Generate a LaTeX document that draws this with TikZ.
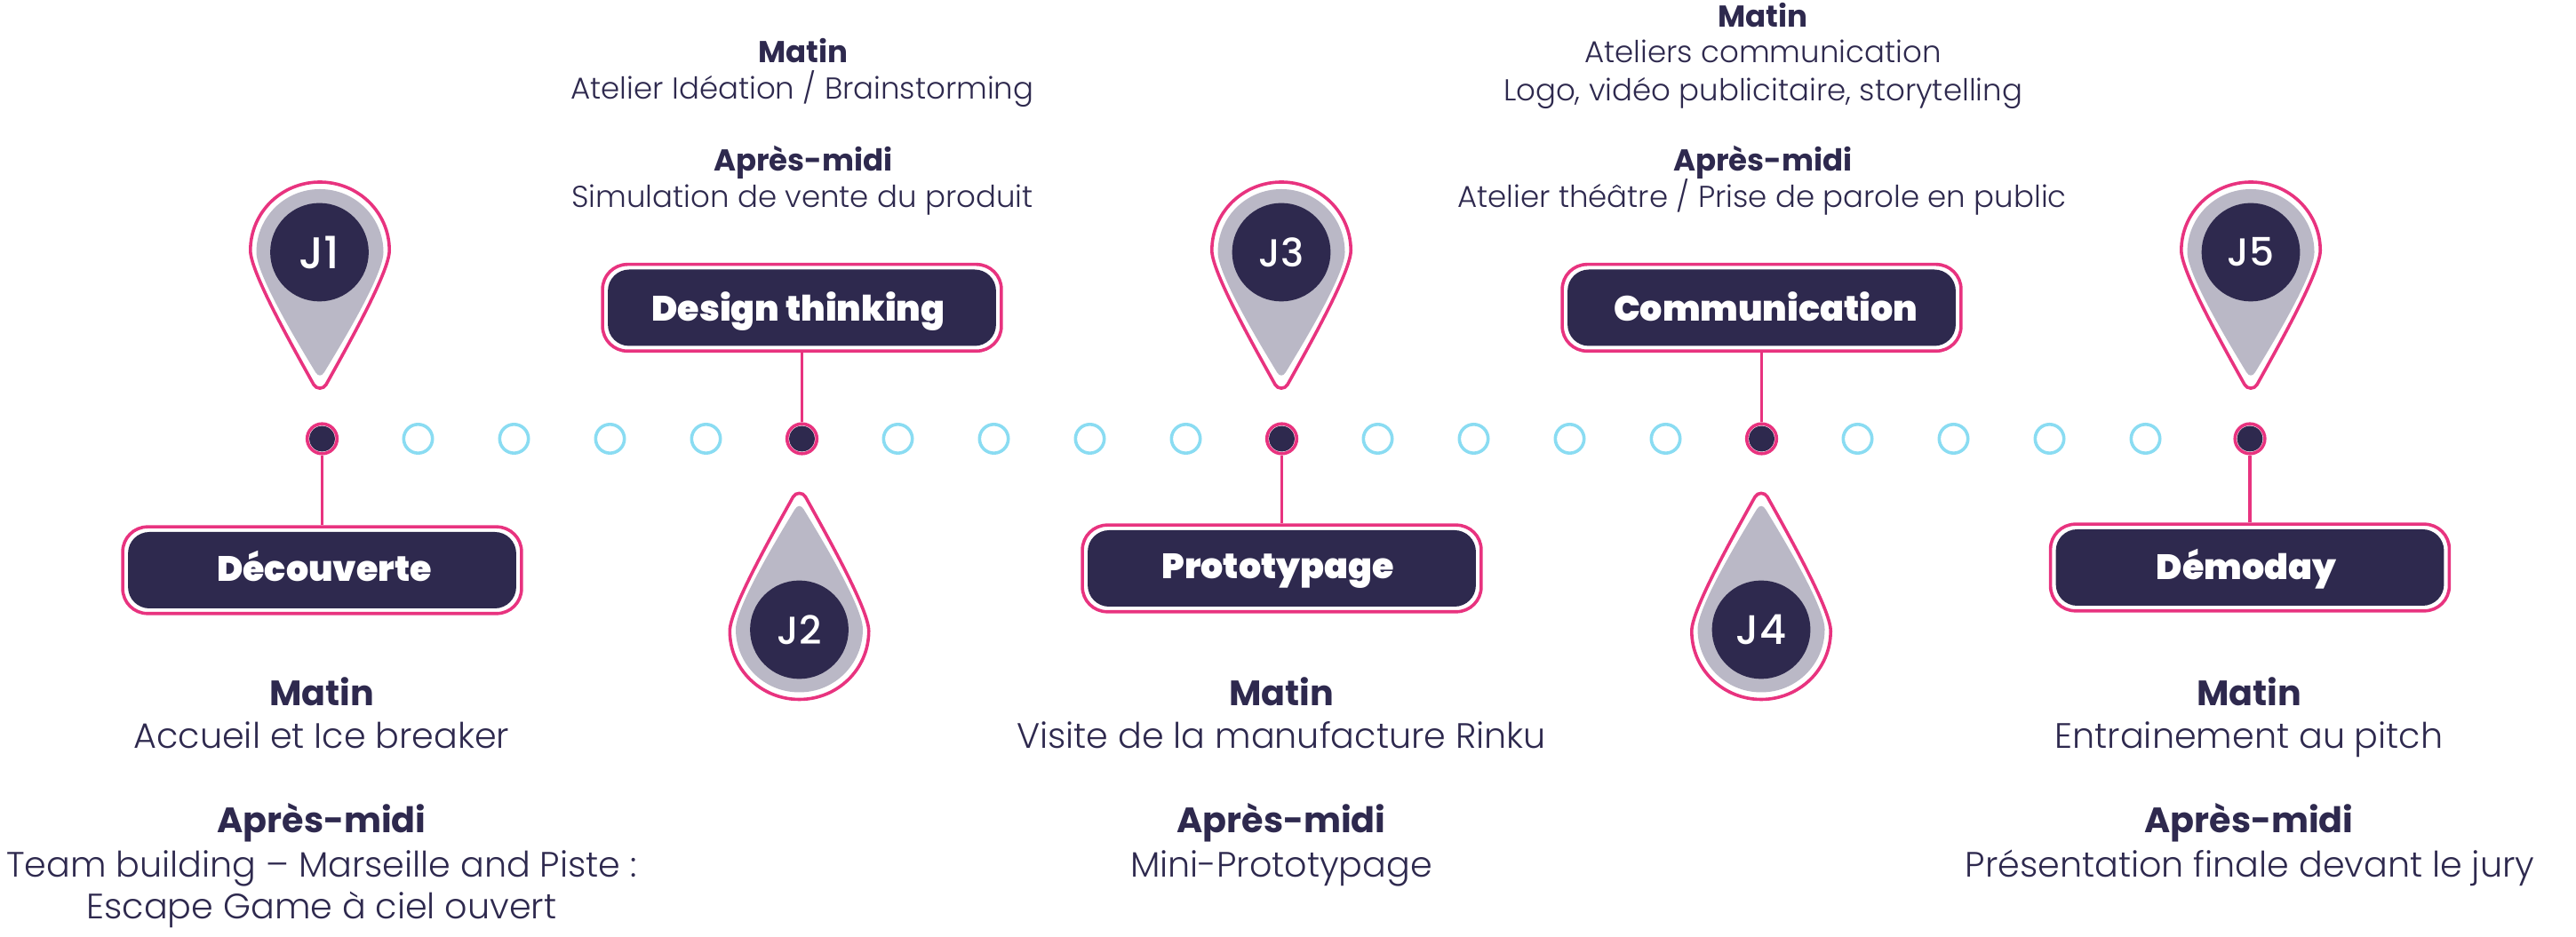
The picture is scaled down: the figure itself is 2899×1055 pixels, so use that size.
\documentclass[tikz,border=0pt]{standalone}
\usepackage{xcolor}
\usepackage{fontspec}
\setmainfont{Poppins}[UprightFont=* Light,BoldFont=* Bold]
\newfontfamily\labelfont{Poppins Black}
\newfontfamily\dayfont{Poppins Medium}
\definecolor{inkblue}{RGB}{46,41,78}
\definecolor{pinkline}{RGB}{232,51,127}
\definecolor{greyfill}{RGB}{186,184,198}
\definecolor{skyline}{RGB}{138,220,242}
\tikzset{
  outline/.style={draw=pinkline,line width=0.9pt,fill=white},
  greydrop/.style={fill=greyfill},
  daydisc/.style={circle,fill=inkblue,inner sep=0pt,minimum size=27.7pt,text=white,font=\dayfont\fontsize{11}{13}\selectfont},
  skydot/.style={circle,draw=skyline,fill=white,line width=0.9pt,inner sep=0pt,minimum size=8.1pt},
  daydot/.style={circle,draw=pinkline,fill=white,line width=0.9pt,inner sep=0pt,minimum size=8.4pt,
    path picture={\fill[inkblue] (path picture bounding box.center) circle (3.6pt);}},
  dayframe/.style={rectangle,draw=pinkline,fill=white,line width=0.9pt,rounded corners=7pt,inner sep=0pt,minimum width=112.2pt,minimum height=24.4pt},
  dayfill/.style={rectangle,fill=inkblue,rounded corners=6pt,inner sep=0pt,minimum width=109.2pt,minimum height=21.5pt},
  wire/.style={draw=pinkline,line width=0.9pt},
  boxlabel/.style={anchor=base,inner sep=0pt,text=white,font=\labelfont\fontsize{9.9}{12}\selectfont},
  bigtext/.style={anchor=base,inner sep=0pt,text=inkblue,font=\fontsize{9.92}{12}\selectfont},
  smalltext/.style={anchor=base,inner sep=0pt,text=inkblue,font=\fontsize{8.5}{11}\selectfont},
}

\begin{document}
\begin{tikzpicture}[x=0.25pt,y=0.25pt,yscale=-1,xscale=1]
\useasboundingbox (0,0) rectangle (2899,1055);

%Shape: Pin J1
\draw [outline] (360,205) .. controls (403,205) and (438.2,239) .. (438.2,282) .. controls (438.2,306) and (392,388) .. (367,433) .. controls (364,438.5) and (356,438.5) .. (353,433) .. controls (328,388) and (281.8,306) .. (281.8,282) .. controls (281.8,239) and (317,205) .. (360,205) -- cycle ;
\fill [greydrop] (360,213) .. controls (400,213) and (431.5,245) .. (431.5,284) .. controls (431.5,308) and (390,378) .. (365,419) .. controls (362,424) and (358,424) .. (355,419) .. controls (330,378) and (288.5,308) .. (288.5,284) .. controls (288.5,245) and (320,213) .. (360,213) -- cycle ;
%Shape: Drop J2
\draw [outline] (899.5,787.5) .. controls (942.5,787.5) and (977.7,753.5) .. (977.7,710.5) .. controls (977.7,686.5) and (931.5,604.5) .. (906.5,559.5) .. controls (903.5,554) and (895.5,554) .. (892.5,559.5) .. controls (867.5,604.5) and (821.3,686.5) .. (821.3,710.5) .. controls (821.3,753.5) and (856.5,787.5) .. (899.5,787.5) -- cycle ;
\fill [greydrop] (899.5,779.5) .. controls (939.5,779.5) and (971,747.5) .. (971,708.5) .. controls (971,684.5) and (929.5,614.5) .. (904.5,573.5) .. controls (901.5,568.5) and (897.5,568.5) .. (894.5,573.5) .. controls (869.5,614.5) and (828,684.5) .. (828,708.5) .. controls (828,747.5) and (859.5,779.5) .. (899.5,779.5) -- cycle ;
%Shape: Pin J3
\draw [outline] (1442,205) .. controls (1485,205) and (1520.2,239) .. (1520.2,282) .. controls (1520.2,306) and (1474,388) .. (1449,433) .. controls (1446,438.5) and (1438,438.5) .. (1435,433) .. controls (1410,388) and (1363.8,306) .. (1363.8,282) .. controls (1363.8,239) and (1399,205) .. (1442,205) -- cycle ;
\fill [greydrop] (1442,213) .. controls (1482,213) and (1513.5,245) .. (1513.5,284) .. controls (1513.5,308) and (1472,378) .. (1447,419) .. controls (1444,424) and (1440,424) .. (1437,419) .. controls (1412,378) and (1370.5,308) .. (1370.5,284) .. controls (1370.5,245) and (1402,213) .. (1442,213) -- cycle ;
%Shape: Drop J4
\draw [outline] (1982,787.5) .. controls (2025,787.5) and (2060.2,753.5) .. (2060.2,710.5) .. controls (2060.2,686.5) and (2014,604.5) .. (1989,559.5) .. controls (1986,554) and (1978,554) .. (1975,559.5) .. controls (1950,604.5) and (1903.8,686.5) .. (1903.8,710.5) .. controls (1903.8,753.5) and (1939,787.5) .. (1982,787.5) -- cycle ;
\fill [greydrop] (1982,779.5) .. controls (2022,779.5) and (2053.5,747.5) .. (2053.5,708.5) .. controls (2053.5,684.5) and (2012,614.5) .. (1987,573.5) .. controls (1984,568.5) and (1980,568.5) .. (1977,573.5) .. controls (1952,614.5) and (1910.5,684.5) .. (1910.5,708.5) .. controls (1910.5,747.5) and (1942,779.5) .. (1982,779.5) -- cycle ;
%Shape: Pin J5
\draw [outline] (2533,205) .. controls (2576,205) and (2611.2,239) .. (2611.2,282) .. controls (2611.2,306) and (2565,388) .. (2540,433) .. controls (2537,438.5) and (2529,438.5) .. (2526,433) .. controls (2501,388) and (2454.8,306) .. (2454.8,282) .. controls (2454.8,239) and (2490,205) .. (2533,205) -- cycle ;
\fill [greydrop] (2533,213) .. controls (2573,213) and (2604.5,245) .. (2604.5,284) .. controls (2604.5,308) and (2563,378) .. (2538,419) .. controls (2535,424) and (2531,424) .. (2528,419) .. controls (2503,378) and (2461.5,308) .. (2461.5,284) .. controls (2461.5,245) and (2493,213) .. (2533,213) -- cycle ;

% Day discs
\node (j1) [daydisc,font=\dayfont\fontsize{12.5}{14}\selectfont] at (359.5,284) {J1};
\node (j2) [daydisc] at (899.5,709) {J2};
\node (j3) [daydisc] at (1442,284) {J3};
\node (j4) [daydisc,font=\dayfont\fontsize{11.6}{14}\selectfont] at (1982,709) {J4};
\node (j5) [daydisc] at (2533,284) {J5};

% Timeline dots
\foreach \n in {1,2,3,4,6,7,8,9,11,12,13,14,16,17,18,19}
  \node (sky\n) [skydot] at (362.5+108*\n,494) {};
\node (dot1) [daydot] at (362.5,494) {};
\node (dot2) [daydot] at (902.5,494) {};
\node (dot3) [daydot] at (1442.5,494) {};
\node (dot4) [daydot] at (1982.5,494) {};
\node (dot5) [daydot] at (2532,494) {};

% Title boxes
\node (box1) [dayframe] at (362.5,642) {};
\node (fill1) [dayfill] at (box1) {};
\node (box2) [dayframe] at (902.5,346.5) {};
\node (fill2) [dayfill] at (box2) {};
\node (box3) [dayframe] at (1442.5,640) {};
\node (fill3) [dayfill] at (box3) {};
\node (box4) [dayframe] at (1982.5,346.5) {};
\node (fill4) [dayfill] at (box4) {};
\node (box5) [dayframe] at (2532,639) {};
\node (fill5) [dayfill] at (box5) {};

% Connectors
\draw [wire] (dot1) -- (box1);
\draw [wire] (dot2) -- (box2);
\draw [wire] (dot3) -- (box3);
\draw [wire] (dot4) -- (box4);
\draw [wire] (dot5) -- (box5);

% Box labels
\node (lab1) [boxlabel] at (365,655) {Découverte};
\node (lab2) [boxlabel] at (898.5,362) {Design thinking};
\node (lab3) [boxlabel] at (1438,652) {Prototypage};
\node (lab4) [boxlabel] at (1987,362) {Communication};
\node (lab5) [boxlabel] at (2528,653) {Démoday};

% Text Node
\node (m1) [bigtext] at (362,795) {\textbf{Matin}};
\node (m1a) [bigtext] at (362,843) {Accueil et Ice breaker};
\node (a1) [bigtext] at (362,938) {\textbf{Après-midi}};
\node (a1a) [bigtext] at (362,988) {Team building – Marseille and Piste :};
\node (a1b) [bigtext] at (362,1035) {Escape Game à ciel ouvert};
% Text Node
\node (m2) [smalltext] at (904,71) {\textbf{Matin}};
\node (m2a) [smalltext] at (903,112) {Atelier Idéation / Brainstorming};
\node (a2) [smalltext] at (904,193) {\textbf{Après-midi}};
\node (a2a) [smalltext] at (903,234) {Simulation de vente du produit};
% Text Node
\node (m3) [bigtext] at (1442,795) {\textbf{Matin}};
\node (m3a) [bigtext] at (1442,843) {Visite de la manufacture Rinku};
\node (a3) [bigtext] at (1442,938) {\textbf{Après-midi}};
\node (a3a) [bigtext] at (1442,988) {Mini-Prototypage};
% Text Node
\node (m4) [smalltext] at (1984,31) {\textbf{Matin}};
\node (m4a) [smalltext] at (1984,71) {Ateliers communication};
\node (m4b) [smalltext] at (1984,114) {Logo, vidéo publicitaire, storytelling};
\node (a4) [smalltext] at (1984,193) {\textbf{Après-midi}};
\node (a4a) [smalltext] at (1983,234) {Atelier théâtre / Prise de parole en public};
% Text Node
\node (m5) [bigtext] at (2531,795) {\textbf{Matin}};
\node (m5a) [bigtext] at (2531,843) {Entrainement au pitch};
\node (a5) [bigtext] at (2531,938) {\textbf{Après-midi}};
\node (a5a) [bigtext] at (2532,988) {Présentation finale devant le jury};

\end{tikzpicture}
\end{document}
